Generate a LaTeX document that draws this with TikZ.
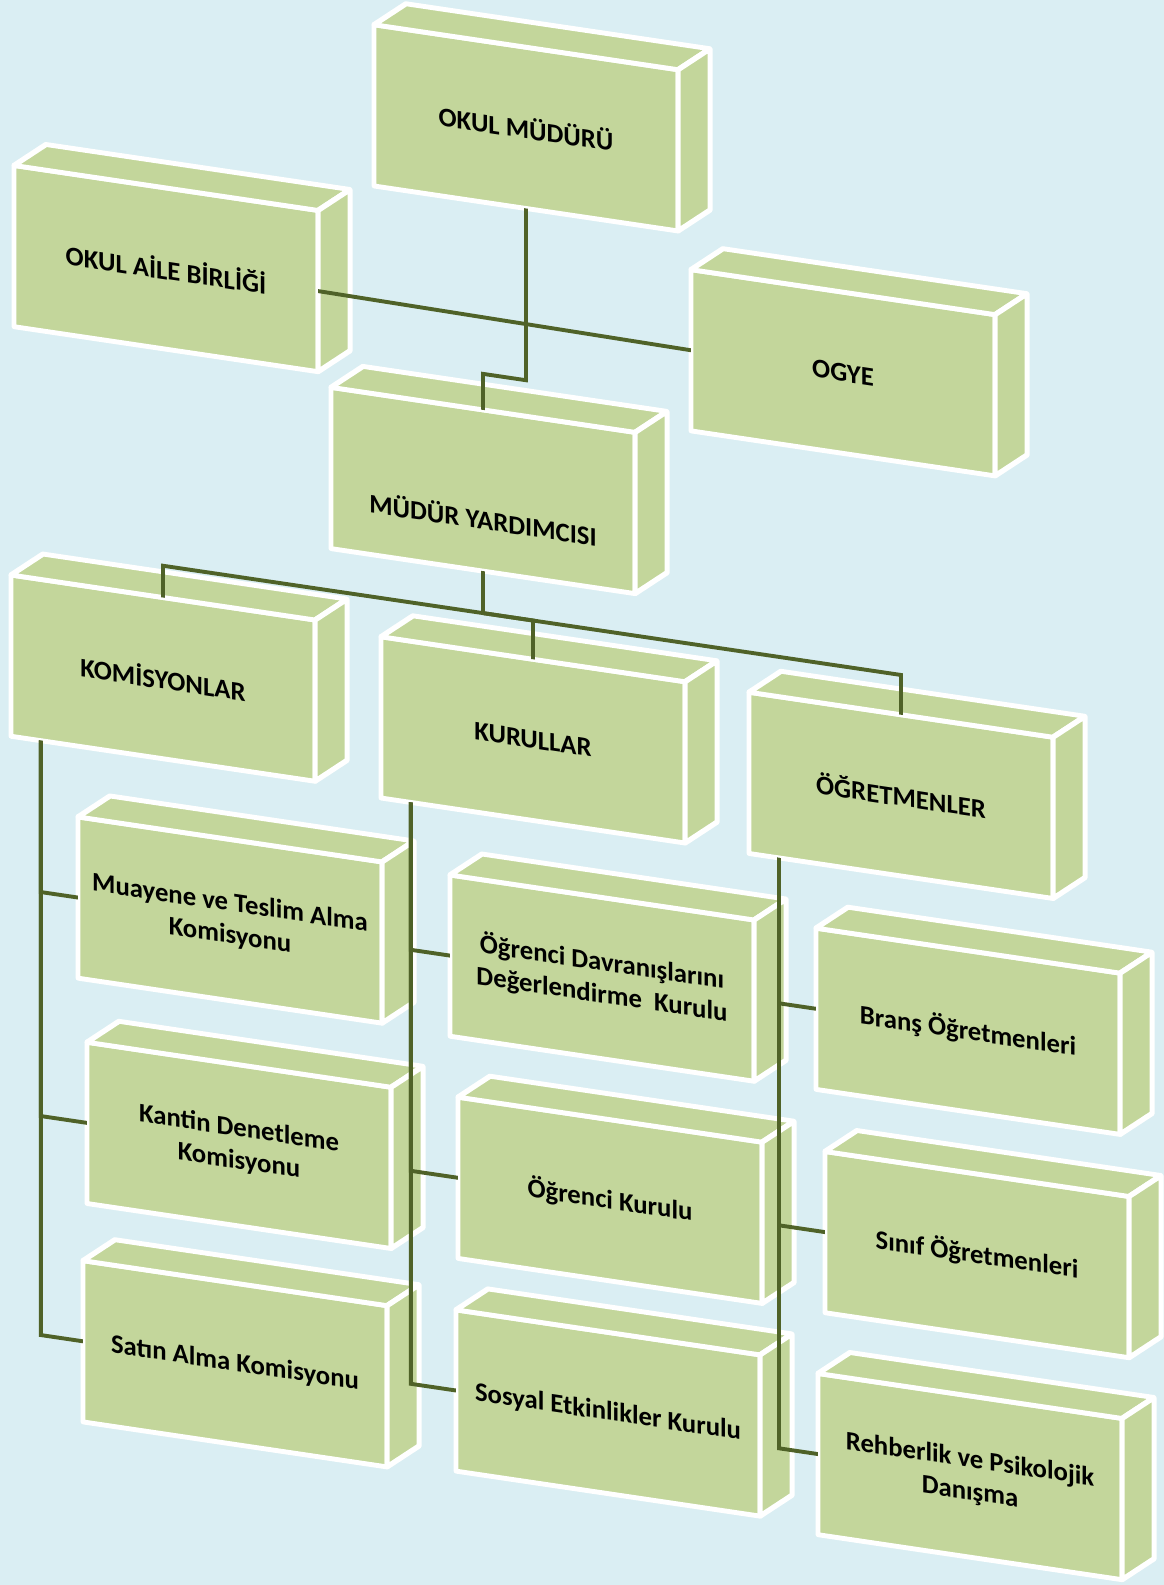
\documentclass[tikz,border=0pt]{standalone}
\usepackage{fontspec}
\setmainfont{Carlito}
\usepackage{xcolor}
\usetikzlibrary{calc}
\definecolor{mybg}{HTML}{DAEEF3}
\definecolor{mygreen}{HTML}{C3D69B}
\definecolor{myline}{HTML}{4F6228}
\def\slope{-0.148}
\def\depthx{32}
\def\depthy{-25.7}
\newcommand{\orgbox}[4][]{
  \node[box, #1] (#2) at (#3) {#4};
  \filldraw[face] (#2.north west) -- ++(\depthx,\depthy) -- ($(#2.north east)+(\depthx,\depthy)$) -- (#2.north east) -- cycle;
  \filldraw[face] (#2.north east) -- ++(\depthx,\depthy) -- ($(#2.south east)+(\depthx,\depthy)$) -- (#2.south east) -- cycle;
}

\begin{document}
\begin{tikzpicture}[x=0.025cm, y=-0.025cm,
    boxtext/.style={font=\bfseries\fontsize{19pt}{23pt}\selectfont, align=center},
    box/.style={boxtext, draw=white, fill=mygreen, line width=3.5pt, line join=round,
      outer sep=0pt, inner sep=0pt, minimum width=7.6cm, minimum height=4.03cm},
    face/.style={draw=white, fill=mygreen, line width=3.5pt, line join=round},
    link/.style={draw=myline, line width=2.8pt}]
  \useasboundingbox (0,0) rectangle (1164,1585);
  \fill[mybg] (0,0) rectangle (1164,1585);
  \begin{scope}[transform canvas={yslant=\slope}]
    % top of the chart
    \orgbox{om}{526,50}{OKUL MÜDÜRÜ}
    \orgbox{oab}{166,244}{OKUL AİLE BİRLİĞİ}
    \orgbox{ogye}{843,248}{OGYE}
    \orgbox[label={[boxtext, yshift=-20pt]center:MÜDÜR YARDIMCISI}]{my}{483,419}{}
    % groups
    \orgbox{kom}{163,654}{KOMİSYONLAR}
    \orgbox{kurul}{533,661}{KURULLAR}
    \orgbox{ogrt}{901,662}{ÖĞRETMENLER}
    % members
    \orgbox{muayene}{230,886}{Muayene ve Teslim Alma\\Komisyonu}
    \orgbox{kantin}{239,1110}{Kantin Denetleme\\Komisyonu}
    \orgbox{satin}{235,1329}{Satın Alma Komisyonu}
    \orgbox{davranis}{602,889}{Öğrenci Davranışlarını\\Değerlendirme\ \ Kurulu}
    \orgbox{ogrkurul}{610,1110}{Öğrenci Kurulu}
    \orgbox{sosyal}{608,1323}{Sosyal Etkinlikler Kurulu}
    \orgbox{brans}{968,888}{Branş Öğretmenleri}
    \orgbox{sinif}{977,1110}{Sınıf Öğretmenleri}
    \orgbox{rehber}{970,1333}{Rehberlik ve Psikolojik\\Danışma}

    % connectors
    \draw[link] (oab.east) -- (ogye.west);
    \draw[link] (om.south) |- ($(my.north)+(0,-36)$) -- (my.north);
    \coordinate (bus) at ($(my.south)+(0,42)$);
    \draw[link] (my.south) -- (bus);
    \draw[link] (kom.north) |- (bus) -| (ogrt.north);
    \draw[link] (kurul.north) |- (bus);
    \foreach \parent/\kids in {kom/{muayene,kantin,satin}, kurul/{davranis,ogrkurul,sosyal}, ogrt/{brans,sinif,rehber}} {
      \coordinate (\parent-drop) at ($(\parent.south west)+(30,0)$);
      \foreach \kid in \kids
        \draw[link] (\parent-drop) |- (\kid.west);
    }
  \end{scope}
\end{tikzpicture}
\end{document}
